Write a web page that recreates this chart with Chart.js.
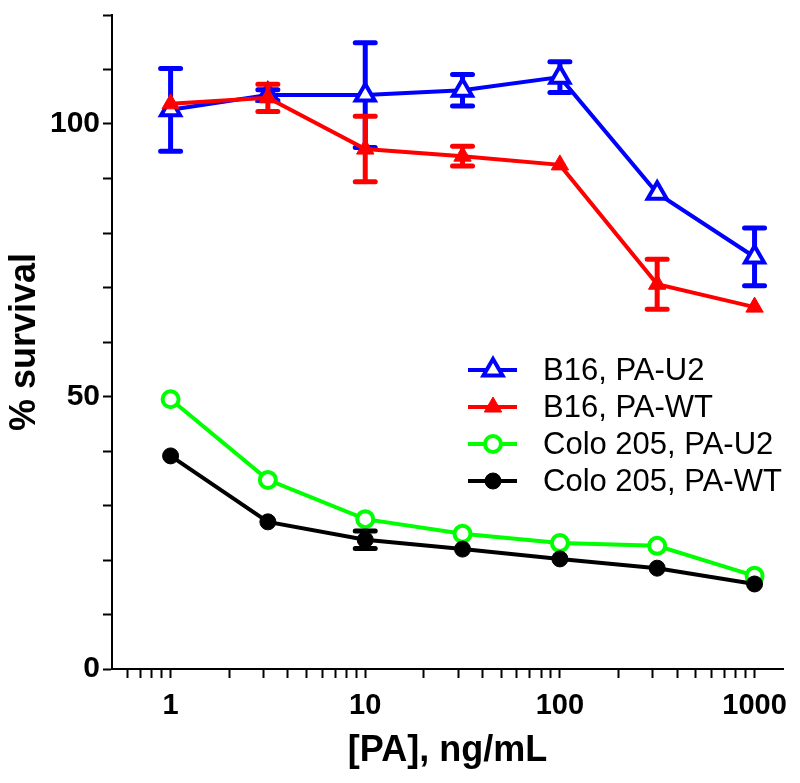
<!DOCTYPE html>
<html>
<head>
<meta charset="utf-8">
<script src="https://cdn.jsdelivr.net/npm/chart.js@4.4.1/dist/chart.umd.min.js"></script>
<style>
  html, body { margin: 0; padding: 0; background: #fff; }
  #wrap { width: 800px; height: 783px; }
</style>
</head>
<body>
<div id="wrap"><canvas id="chart" width="800" height="783"></canvas></div>
<script>
// doses, ng/mL (half-log steps)
var doses = [1, 3.16, 10, 31.6, 100, 316, 1000];

var seriesNames = ['B16, PA-U2', 'B16, PA-WT', 'Colo 205, PA-U2', 'Colo 205, PA-WT'];

var b16U2 = [102.6, 105.3, 105.3, 106.2, 108.6, 87.3, 75.6];
var b16U2Err = [7.6, 1.0, 9.6, 2.9, 2.8, 0, 5.3];

var b16WT = [103.7, 104.8, 95.4, 94.1, 92.5, 70.6, 66.4];
var b16WTErr = [0, 2.5, 6.0, 1.8, 0, 4.6, 0];

var coloU2 = [49.5, 34.7, 27.5, 24.8, 23.1, 22.6, 17.1];
var coloU2Err = [0, 0, 0, 0, 0, 0, 0];

var coloWT = [39.1, 27.0, 23.7, 22.0, 20.2, 18.5, 15.6];
var coloWTErr = [0, 0, 1.6, 0, 0, 0, 0];

var xMajorTicks = [1, 10, 100, 1000];
var yLabelTicks = [0, 50, 100];

var FONT = "'Liberation Sans', Arial, sans-serif";

function points(ys) {
    return doses.map(function (d, i) { return { x: d, y: ys[i] }; });
}

function makeSet(label, ys, errs, color, style, filled, radius, order) {
    return {
        label: label,
        data: points(ys),
        errors: errs,
        borderColor: color,
        backgroundColor: color,
        borderWidth: 4,
        pointStyle: style,
        pointRadius: radius,
        pointHoverRadius: radius,
        pointBorderWidth: filled ? 1 : 4,
        pointBorderColor: color,
        pointBackgroundColor: filled ? color : '#ffffff',
        tension: 0,
        order: order,
        clip: false
    };
}

var errorBars = {
    id: 'errorBars',
    beforeDatasetDraw: function (chart, args) {
        var ds = chart.data.datasets[args.index];
        if (!ds.errors) return;
        var ctx = chart.ctx, xs = chart.scales.x, ys = chart.scales.y;
        ctx.save();
        ctx.strokeStyle = ds.borderColor;
        ctx.lineWidth = 5;
        ctx.lineCap = 'round';
        ds.data.forEach(function (p, i) {
            var e = ds.errors[i];
            if (!e) return;
            var px = xs.getPixelForValue(p.x);
            var top = ys.getPixelForValue(p.y + e);
            var bot = ys.getPixelForValue(p.y - e);
            ctx.beginPath();
            ctx.moveTo(px, top); ctx.lineTo(px, bot);
            ctx.moveTo(px - 10, top); ctx.lineTo(px + 10, top);
            ctx.moveTo(px - 10, bot); ctx.lineTo(px + 10, bot);
            ctx.stroke();
        });
        ctx.restore();
    }
};

function drawMarker(ctx, ds, x, y, r) {
    ctx.beginPath();
    if (ds.pointStyle === 'triangle') {
        ctx.moveTo(x, y - r);
        ctx.lineTo(x + r * 0.87, y + r * 0.5);
        ctx.lineTo(x - r * 0.87, y + r * 0.5);
        ctx.closePath();
    } else {
        ctx.arc(x, y, r, 0, Math.PI * 2);
    }
    ctx.fillStyle = ds.pointBackgroundColor;
    ctx.fill();
    ctx.lineWidth = ds.pointBorderWidth;
    ctx.strokeStyle = ds.pointBorderColor;
    ctx.stroke();
}

var insideLegend = {
    id: 'insideLegend',
    afterDraw: function (chart) {
        var ctx = chart.ctx, area = chart.chartArea;
        var left = area.left + 356, top = area.top + 355, row = 37;
        ctx.save();
        chart.data.datasets.forEach(function (ds, i) {
            var y = top + i * row;
            ctx.beginPath();
            ctx.moveTo(left, y); ctx.lineTo(left + 49, y);
            ctx.strokeStyle = ds.borderColor;
            ctx.lineWidth = 4;
            ctx.stroke();
            drawMarker(ctx, ds, left + 25, y, ds.pointRadius);
            ctx.fillStyle = '#000';
            ctx.font = '31px ' + FONT;
            ctx.textBaseline = 'middle';
            ctx.textAlign = 'left';
            ctx.fillText(ds.label, left + 75, y + 1);
        });
        ctx.restore();
    }
};

var xTickValues = [];
[0.1, 1, 10, 100].forEach(function (dec) {
    for (var k = 1; k <= 9; k++) {
        var v = +(dec * k).toPrecision(3);
        if (v >= 0.6 && v <= 1000) xTickValues.push(v);
    }
});
xTickValues.push(1000);

new Chart(document.getElementById('chart'), {
    type: 'line',
    data: {
        datasets: [
            makeSet(seriesNames[0], b16U2, b16U2Err, '#0000ff', 'triangle', false, 11, 1),
            makeSet(seriesNames[1], b16WT, b16WTErr, '#ff0000', 'triangle', true, 10, 0),
            makeSet(seriesNames[2], coloU2, coloU2Err, '#00ff00', 'circle', false, 8, 1),
            makeSet(seriesNames[3], coloWT, coloWTErr, '#000000', 'circle', true, 8, 0)
        ]
    },
    options: {
        responsive: false,
        animation: false,
        layout: { padding: { top: 12, right: 17, left: 0, bottom: 0 } },
        plugins: {
            legend: { display: false },
            tooltip: { enabled: false }
        },
        scales: {
            x: {
                type: 'logarithmic',
                min: 0.5,
                max: 1400,
                afterBuildTicks: function (scale) {
                    scale.ticks = xTickValues.map(function (v) { return { value: v }; });
                },
                afterFit: function (scale) { scale.height = 114; },
                grid: {
                    drawOnChartArea: false,
                    drawTicks: true,
                    tickLength: 9,
                    tickWidth: 2,
                    tickColor: '#000'
                },
                border: { display: true, color: '#000', width: 2 },
                ticks: {
                    autoSkip: false,
                    maxRotation: 0,
                    padding: 11,
                    color: '#000',
                    font: { family: FONT, size: 29, weight: 'bold' },
                    callback: function (v) {
                        return xMajorTicks.indexOf(v) >= 0 ? String(v) : '';
                    }
                },
                title: {
                    display: true,
                    text: '[PA], ng/mL',
                    color: '#000',
                    font: { family: FONT, size: 36, weight: 'bold' },
                    padding: { top: 0, bottom: 10 }
                }
            },
            y: {
                min: 0,
                max: 120,
                afterFit: function (scale) {
                    scale.width = 112;
                    scale.paddingTop = 0;
                    scale.paddingBottom = 0;
                },
                grid: {
                    drawOnChartArea: false,
                    drawTicks: true,
                    tickLength: 9,
                    tickWidth: 2,
                    tickColor: '#000'
                },
                border: { display: true, color: '#000', width: 2 },
                ticks: {
                    stepSize: 10,
                    padding: 3,
                    color: '#000',
                    font: { family: FONT, size: 30, weight: 'bold' },
                    callback: function (v) {
                        return yLabelTicks.indexOf(v) >= 0 ? String(v) : '';
                    }
                },
                title: {
                    display: true,
                    text: '% survival',
                    color: '#000',
                    font: { family: FONT, size: 36, weight: 'bold' },
                    padding: { top: 3, bottom: 0 }
                }
            }
        }
    },
    plugins: [errorBars, insideLegend]
});
</script>
</body>
</html>
